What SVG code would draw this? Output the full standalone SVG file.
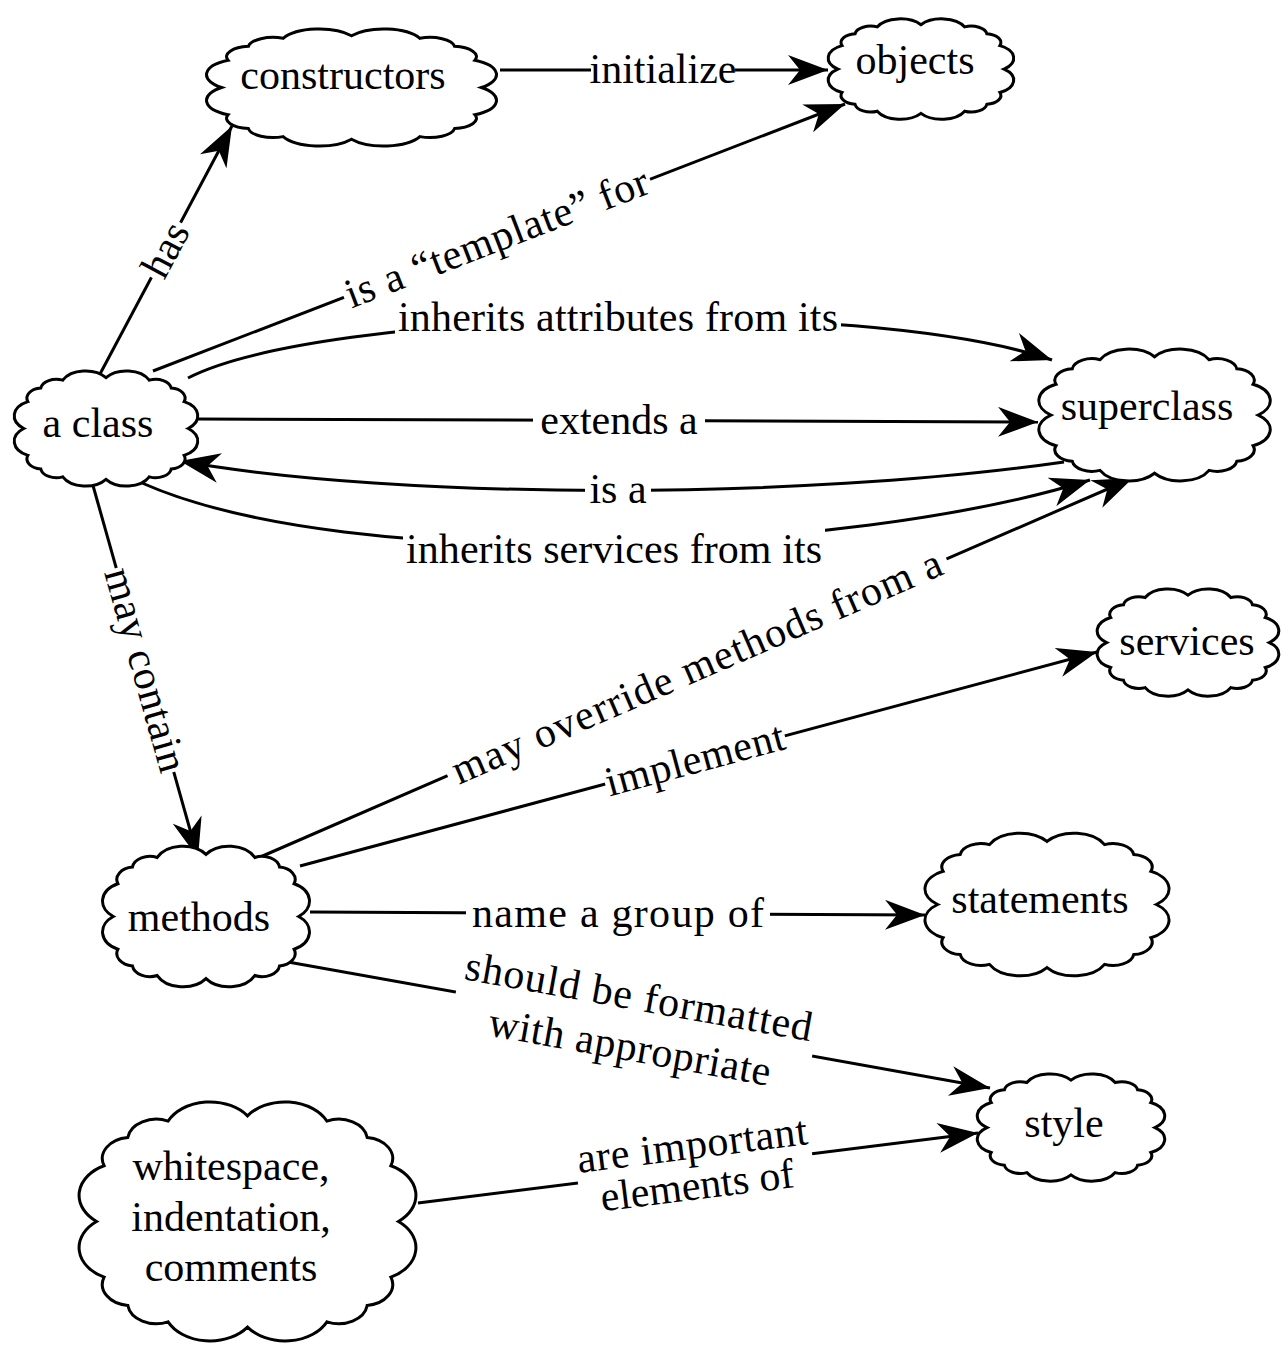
<svg xmlns="http://www.w3.org/2000/svg" xmlns:xlink="http://www.w3.org/1999/xlink" width="1282" height="1348" viewBox="0 0 1282 1348">
<style>
.t{font-family:"Liberation Serif","Times New Roman",serif;font-size:42px;text-anchor:middle;fill:#000}
.bg{fill:#fff}
.e{fill:none;stroke:#000;stroke-width:3;marker-end:url(#arr)}
.c{fill:#fff;stroke:#000;stroke-width:3}
</style>
<defs>
<marker id="arr" markerUnits="userSpaceOnUse" viewBox="0 0 40 30" markerWidth="40" markerHeight="30" refX="40" refY="15" orient="auto">
<path d="M40,15 L0,0 L12,15 L0,30 Z" fill="#000"/>
</marker>
<path id="cloud" vector-effect="non-scaling-stroke" d="M50,10 A13,13 0 0 1 72.1,12 A8,8 0 0 1 83.3,18.2 A8,8 0 0 1 89.9,28.9 A12.5,12.5 0 0 1 92,50 A12.5,12.5 0 0 1 89.9,71.1 A8,8 0 0 1 83.3,81.8 A8,8 0 0 1 72.1,88 A13,13 0 0 1 50,90 A13,13 0 0 1 27.9,88 A8,8 0 0 1 16.7,81.8 A8,8 0 0 1 10.1,71.1 A12.5,12.5 0 0 1 8,50 A12.5,12.5 0 0 1 10.1,28.9 A8,8 0 0 1 16.7,18.2 A8,8 0 0 1 27.9,12 A13,13 0 0 1 50,10 Z"/>
</defs>
<rect width="1282" height="1348" fill="#fff"/>
<g id="connectors">
<path class="e" d="M500,70 L828,70"/>
<path class="e" d="M100,374 L232,126"/>
<path class="e" d="M153,371 L845,104"/>
<path class="e" d="M188,378 C320,310 860,295 1052,360"/>
<path class="e" d="M198,419 L1038,422"/>
<path class="e" d="M1064,462 C800,500 400,500 180,461"/>
<path class="e" d="M142,483 C350,575 850,555 1090,480"/>
<path class="e" d="M258,858 L1133,478"/>
<path class="e" d="M92,482 L198,858"/>
<path class="e" d="M300,866 L1097,652"/>
<path class="e" d="M310,912 L925,915"/>
<path class="e" d="M288,962 L990,1088"/>
<path class="e" d="M418,1203 L978,1133"/>
<g transform="translate(663,70)"><rect class="bg" x="-72" y="-8" width="144" height="16"/><text class="t" y="13">initialize</text></g>
<g transform="translate(166,250) rotate(-62)"><rect class="bg" x="-31" y="-8" width="62" height="16"/><text class="t" y="13">has</text></g>
<g transform="translate(618,318)"><rect class="bg" x="-223" y="-16" width="446" height="32"/><text class="t" y="13" textLength="440" lengthAdjust="spacing">inherits attributes from its</text></g>
<g transform="translate(497,238.3) rotate(-21.1)"><rect class="bg" x="-164" y="-8" width="328" height="16"/><text class="t" y="13" textLength="322" lengthAdjust="spacing">is a “template” for</text></g>
<g transform="translate(619,421)"><rect class="bg" x="-86" y="-8" width="172" height="16"/><text class="t" y="13">extends a</text></g>
<g transform="translate(618,490)"><rect class="bg" x="-33" y="-8" width="66" height="16"/><text class="t" y="13">is a</text></g>
<g transform="translate(614,548)"><rect class="bg" x="-211" y="-22" width="422" height="30"/><text class="t" y="15" textLength="416" lengthAdjust="spacing">inherits services from its</text></g>
<g transform="translate(697,667.3) rotate(-23.48)"><rect class="bg" x="-272" y="-8" width="544" height="16"/><text class="t" y="13" textLength="530" lengthAdjust="spacing">may override methods from a</text></g>
<g transform="translate(145,670) rotate(74.26)"><rect class="bg" x="-106" y="-8" width="212" height="16"/><text class="t" y="13" textLength="210" lengthAdjust="spacing">may contain</text></g>
<g transform="translate(695,760) rotate(-15.03)"><rect class="bg" x="-93" y="-8" width="186" height="16"/><text class="t" y="13" textLength="184" lengthAdjust="spacing">implement</text></g>
<g transform="translate(618,914)"><rect class="bg" x="-152" y="-8" width="304" height="16"/><text class="t" y="13" textLength="292" lengthAdjust="spacing">name a group of</text></g>
<g transform="translate(634,1024) rotate(10.18)"><rect class="bg" x="-181" y="-8" width="362" height="16"/><text class="t" y="-14" textLength="352" lengthAdjust="spacing">should be formatted</text><text class="t" y="37" textLength="286" lengthAdjust="spacing">with appropriate</text></g>
<g transform="translate(695,1168.4) rotate(-7.13)"><rect class="bg" x="-118" y="-8" width="236" height="16"/><text class="t" y="-10" textLength="232" lengthAdjust="spacing">are important</text><text class="t" y="31">elements of</text></g>
</g>
<g id="node-constructors"><use xlink:href="#cloud" class="c" transform="translate(196.8,22.8) scale(3.094,1.2935)"/><text class="t" x="343" y="89">constructors</text></g>
<g id="node-objects"><use xlink:href="#cloud" class="c" transform="translate(822,13.6) scale(1.979,1.109)"/><text class="t" x="915" y="74">objects</text></g>
<g id="node-aclass"><use xlink:href="#cloud" class="c" transform="translate(8.1,364.9) scale(1.958,1.272)"/><text class="t" x="98" y="437">a class</text></g>
<g id="node-superclass"><use xlink:href="#cloud" class="c" transform="translate(1031.1,342.2) scale(2.469,1.4565)"/><text class="t" x="1147" y="420">superclass</text></g>
<g id="node-services"><use xlink:href="#cloud" class="c" transform="translate(1091.1,583.3) scale(1.9375,1.185)"/><text class="t" x="1187" y="655">services</text></g>
<g id="node-methods"><use xlink:href="#cloud" class="c" transform="translate(95.6,838.8) scale(2.208,1.554)"/><text class="t" x="199" y="931">methods</text></g>
<g id="node-statements"><use xlink:href="#cloud" class="c" transform="translate(916.8,825.7) scale(2.604,1.576)"/><text class="t" x="1040" y="913">statements</text></g>
<g id="node-style"><use xlink:href="#cloud" class="c" transform="translate(971,1068.3) scale(2,1.185)"/><text class="t" x="1064" y="1137">style</text></g>
<g id="node-whitespace"><use xlink:href="#cloud" class="c" transform="translate(67.8,1089.4) scale(3.594,2.641)"/><text class="t" x="231" y="1180">whitespace,</text><text class="t" x="231" y="1231">indentation,</text><text class="t" x="231" y="1281">comments</text></g>
</svg>
